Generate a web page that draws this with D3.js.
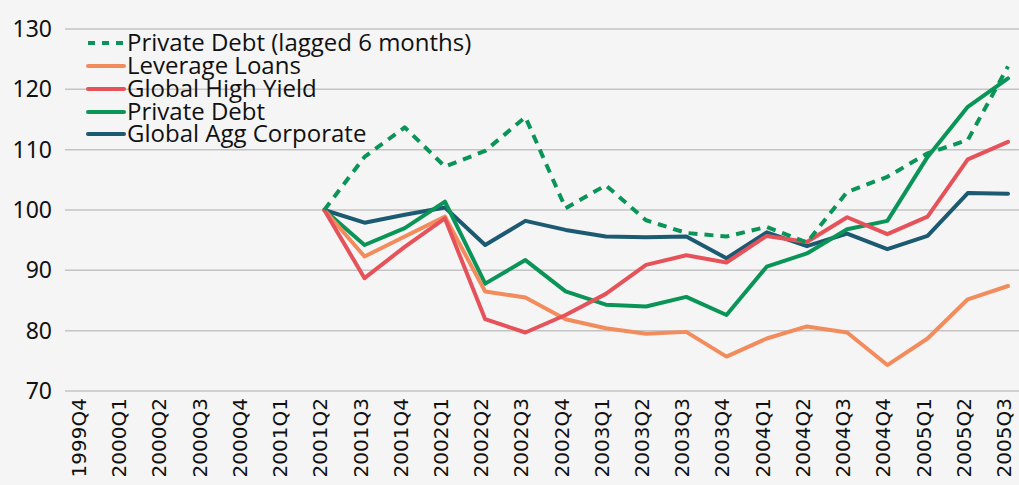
<!DOCTYPE html>
<html>
<head>
<meta charset="utf-8">
<script src="https://cdn.jsdelivr.net/npm/d3@7"></script>
<style>
  body { margin: 0; background: #f5f5f5; }
  svg { display: block; }
</style>
</head>
<body>
<script>
const quarters = ["1999Q4","2000Q1","2000Q2","2000Q3","2000Q4","2001Q1","2001Q2","2001Q3","2001Q4",
  "2002Q1","2002Q2","2002Q3","2002Q4","2003Q1","2003Q2","2003Q3","2003Q4","2004Q1","2004Q2",
  "2004Q3","2004Q4","2005Q1","2005Q2","2005Q3"]

// values start at 2001Q2
const dataQuarters = quarters.slice(6)
const privateDebtLagged = [100,108.8,113.7,107.2,109.8,115.4,100.3,104.1,98.3,96.2,95.6,97.2,94.6,103.0,105.5,109.4,111.6,123.8]
const leverageLoans     = [100,92.3,95.6,98.9,86.5,85.5,81.9,80.4,79.5,79.8,75.7,78.7,80.7,79.7,74.3,78.7,85.2,87.4]
const globalHighYield   = [100,88.7,93.9,98.6,81.9,79.7,82.6,86.1,90.9,92.5,91.3,95.7,94.7,98.8,96.0,98.9,108.4,111.3]
const privateDebt       = [100,94.2,97.0,101.4,87.8,91.7,86.5,84.3,84.0,85.6,82.6,90.6,92.8,96.8,98.2,108.8,117.1,121.8]
const globalAggCorp     = [100,97.9,99.2,100.4,94.2,98.2,96.7,95.6,95.5,95.6,92.0,96.3,94.0,96.1,93.5,95.7,102.8,102.7]
const yTicks = [70,80,90,100,110,120,130]

const w = 1019
const h = 485

const series = [
  {name:"Global Agg Corporate", values: globalAggCorp, color:"#1c5a72", dash:null},
  {name:"Private Debt", values: privateDebt, color:"#0b9458", dash:null},
  {name:"Leverage Loans", values: leverageLoans, color:"#f28c5c", dash:null},
  {name:"Global High Yield", values: globalHighYield, color:"#e5525a", dash:null},
  {name:"Private Debt (lagged 6 months)", values: privateDebtLagged, color:"#0b9458", dash:"9,7"}
]
const legendOrder = ["Private Debt (lagged 6 months)","Leverage Loans","Global High Yield","Private Debt","Global Agg Corporate"]

const x = d3.scalePoint()
  .domain(quarters)
  .range([83, 1008])

const y = d3.scaleLinear()
  .domain([70, 130])
  .range([391, 29])

const svg = d3.select("body")
  .append("svg")
  .attr("width", w)
  .attr("height", h)

// grid
svg.append("g")
  .selectAll("line")
  .data(yTicks)
  .enter()
  .append("line")
  .attr("x1", 65)
  .attr("x2", w)
  .attr("y1", d => y(d))
  .attr("y2", d => y(d))
  .attr("stroke", "#c4c4c4")
  .attr("stroke-width", 1.5)

// y labels
svg.append("g")
  .selectAll("text")
  .data(yTicks)
  .enter()
  .append("text")
  .attr("x", 52)
  .attr("y", d => y(d) + 8)
  .attr("text-anchor", "end")
  .attr("font-family", "'Noto Sans', sans-serif")
  .attr("font-size", "23px")
  .attr("fill", "#111")
  .text(d => d)

// x labels
svg.append("g")
  .selectAll("text")
  .data(quarters)
  .enter()
  .append("text")
  .attr("transform", d => `translate(${x(d) + 3},398) rotate(-90)`)
  .attr("text-anchor", "end")
  .attr("font-family", "'DejaVu Sans', sans-serif")
  .attr("font-size", "20px")
  .attr("fill", "#111")
  .text(d => d)

const line = d3.line()
  .x((d, i) => x(dataQuarters[i]))
  .y(d => y(d))

svg.append("g")
  .selectAll("path")
  .data(series)
  .enter()
  .append("path")
  .attr("d", d => line(d.values))
  .attr("fill", "none")
  .attr("stroke", d => d.color)
  .attr("stroke-width", 4)
  .attr("stroke-linejoin", "round")
  .attr("stroke-linecap", d => d.dash ? "butt" : "round")
  .attr("stroke-dasharray", d => d.dash)

// legend
const legendY = [43, 66, 89, 112, 134]
const leg = svg.append("g")
  .selectAll("g")
  .data(legendOrder.map(n => series.find(s => s.name === n)))
  .enter()
  .append("g")
  .attr("transform", (d, i) => `translate(0,${legendY[i]})`)

leg.append("line")
  .attr("x1", 88)
  .attr("x2", 124)
  .attr("stroke", d => d.color)
  .attr("stroke-width", 4)
  .attr("stroke-linecap", d => d.dash ? "butt" : "round")
  .attr("stroke-dasharray", d => d.dash ? "7,7" : null)

leg.append("text")
  .attr("x", 127)
  .attr("y", 8)
  .attr("font-family", "'Open Sans', sans-serif")
  .attr("font-size", "24px")
  .attr("fill", "#111")
  .text(d => d.name)
</script>
</body>
</html>
